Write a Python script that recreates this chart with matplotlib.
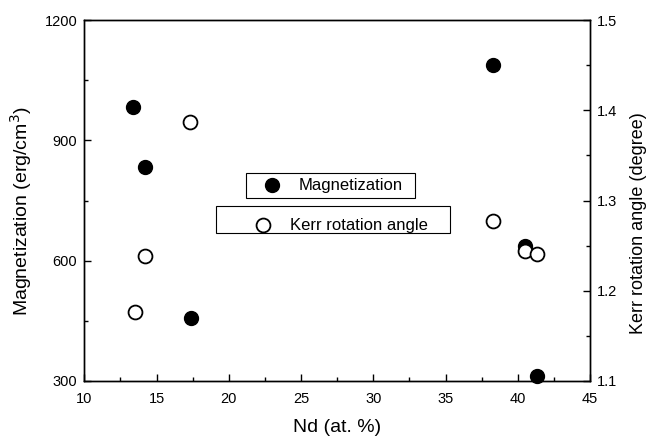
import matplotlib
matplotlib.use("Agg")
import matplotlib.pyplot as plt
from matplotlib.ticker import MultipleLocator, FormatStrFormatter
from matplotlib.patches import Rectangle
from matplotlib.lines import Line2D

plt.rcParams['font.family'] = ['Liberation Sans', 'DejaVu Sans']

# Data
mag_x = [13.4, 14.2, 17.4, 38.3, 40.5, 41.3]
mag_y = [984, 833, 456, 1087, 637, 312]
kerr_x = [13.5, 14.2, 17.3, 38.3, 40.5, 41.3]
kerr_y = [1.176, 1.239, 1.387, 1.277, 1.244, 1.241]

xlabel = "Nd (at. %)"
ylabel_left = "Magnetization (erg/cm$^3$)"
ylabel_right = "Kerr rotation angle (degree)"
legend_labels = ["Magnetization", "Kerr rotation angle"]

fig = plt.figure(figsize=(6.5, 4.38), dpi=100)
ax = fig.add_axes([84.3/650, 57/438, 505.7/650, 361/438])
ax2 = ax.twinx()

ax.plot(mag_x, mag_y, 'o', color='black', markersize=10, clip_on=False, zorder=3)
ax2.plot(kerr_x, kerr_y, 'o', markerfacecolor='white', markeredgecolor='black',
         markeredgewidth=1.3, markersize=10, clip_on=False, zorder=3)

ax.set_xlim(10, 45)
ax.set_ylim(300, 1200)
ax2.set_ylim(1.1, 1.5)

ax.xaxis.set_major_locator(MultipleLocator(5))
ax.xaxis.set_minor_locator(MultipleLocator(2.5))
ax.yaxis.set_major_locator(MultipleLocator(300))
ax.yaxis.set_minor_locator(MultipleLocator(150))
ax2.yaxis.set_major_locator(MultipleLocator(0.1))
ax2.yaxis.set_minor_locator(MultipleLocator(0.05))
ax2.yaxis.set_major_formatter(FormatStrFormatter('%.1f'))

for a in (ax, ax2):
    a.tick_params(which='major', direction='in', length=5, width=1.0, labelsize=10.5, pad=5)
    a.tick_params(which='minor', direction='in', length=3, width=1.0)
    for s in a.spines.values():
        s.set_linewidth(1.0)
ax.tick_params(axis='x', which='both', top=False, pad=8)
ax2.tick_params(axis='x', which='both', top=False)

ax.set_xlabel(xlabel, fontsize=14)
ax.set_ylabel(ylabel_left, fontsize=14)
ax2.set_ylabel(ylabel_right, fontsize=13)
# label positions (axes fraction)
ax.xaxis.set_label_coords(0.5, -0.105)
ax.yaxis.set_label_coords(-0.10, 0.471)
ax2.yaxis.set_label_coords(1.079, 0.438)

# Legend boxes (two separate framed entries)
boxes = [((0.320, 0.507), 0.334, 0.069), ((0.260, 0.410), 0.463, 0.074)]
for (x0, y0), w, h in boxes:
    ax.add_patch(Rectangle((x0, y0), w, h, transform=ax.transAxes, fill=True,
                           facecolor='white', edgecolor='black', linewidth=0.8, zorder=4))
ax.add_line(Line2D([0.371], [0.5416], transform=ax.transAxes, marker='o', color='black',
                   markersize=10, linestyle='none', zorder=5))
ax.add_line(Line2D([0.354], [0.432], transform=ax.transAxes, marker='o', markerfacecolor='white',
                   markeredgecolor='black', markeredgewidth=1.3, markersize=10,
                   linestyle='none', zorder=5))
ax.text(0.423, 0.5416, legend_labels[0], transform=ax.transAxes, fontsize=12,
        va='center', ha='left', zorder=6)
ax.text(0.407, 0.432, legend_labels[1], transform=ax.transAxes, fontsize=12,
        va='center', ha='left', zorder=6)

fig.savefig("out.png", dpi=100)
